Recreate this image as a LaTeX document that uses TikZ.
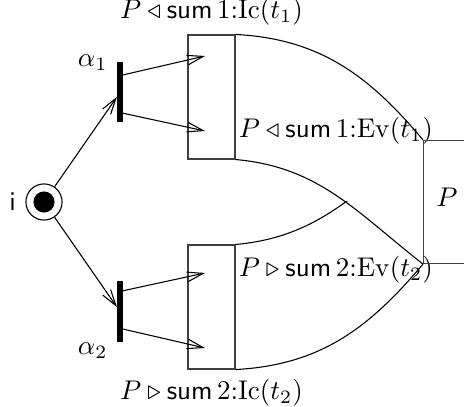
\documentclass[tikz,border=0pt]{standalone}
\usepackage{amsmath,amssymb}
\usetikzlibrary{positioning,arrows.meta,calc}
\newcommand{\sumlab}[3]{$P #1 \mathsf{sum}\,#2{:}\mathrm{#3}(t_{#2})$}

\begin{document}
\begin{tikzpicture}[
  >={Straight Barb[length=2.1mm,width=1.25mm]},
  place/.style={draw, circle, minimum size=4.7mm, inner sep=0pt},
  token/.style={fill, circle, minimum size=2.75mm, inner sep=0pt},
  trans/.style={draw, fill, minimum width=0.65mm, minimum height=7.67mm, inner sep=0pt},
  comp/.style={draw=black!75, minimum width=6.11mm, minimum height=16.12mm, inner sep=0pt},
  lab/.style={inner sep=1pt}
]
\useasboundingbox (-0.572,-2.665) rectangle (5.46,2.626);
\clip (-0.572,-2.665) rectangle (5.46,2.626);

% initial place
\node[place] (i) at (0,0) {};
\node[token] (tok) at (i) {};
\node[left=0pt of i] (ilab) {\textsf{i}};

% transitions
\node[trans] (a1) at (0.988,1.424) {};
\node[trans] (a2) at (0.988,-1.424) {};
\node[anchor=east] (a1lab) at (a1.north west) {$\alpha_1$};
\node[anchor=east] (a2lab) at ($(a2.south west)+(0,-0.12)$) {$\alpha_2$};

% components
\node[comp] (c1) at (2.178,1.365) {};
\node[comp] (c2) at (2.178,-1.365) {};
\node[above=0pt of c1] (c1ic) {\sumlab{\triangleleft}{1}{Ic}};
\node[below=0pt of c2] (c2ic) {\sumlab{\triangleright}{2}{Ic}};
\node[lab, anchor=west] (c1ev) at ($(c1.south east)+(0,0.377)$) {\sumlab{\triangleleft}{1}{Ev}};
\node[lab, anchor=west] (c2ev) at ($(c2.north east)+(0,-0.325)$) {\sumlab{\triangleright}{2}{Ev}};

% P box
\node[draw=black!75, minimum width=1.2cm, minimum height=1.6cm, anchor=west] (pb) at (4.927,0) {};
\node (plab) at ($(pb.west)+(0.31,0.065)$) {$P$};

\draw[->] (i) -- (a1);
\draw[->] (i) -- (a2);
\draw[->] ($(a1.east)+(0,0.228)$) -- ($(c1.center)+(-0.085,0.533)$);
\draw[->] ($(a1.east)+(0,-0.27)$) -- ($(c1.center)+(-0.085,-0.442)$);
\draw[->] ($(a2.east)+(0,0.27)$) -- ($(c2.center)+(-0.085,0.442)$);
\draw[->] ($(a2.east)+(0,-0.228)$) -- ($(c2.center)+(-0.085,-0.533)$);

\draw (c1.north east) to[out=-3,in=130] (pb.north west);
\draw (c1.south east) to[out=-5,in=142] (pb.south west);
\draw (c2.south east) to[out=3,in=-130] (pb.south west);
\begin{scope}
  \clip (c2.north east) rectangle (pb.west);
  \draw (c2.north east) to[out=5,in=-142] (pb.north west);
\end{scope}

\end{tikzpicture}
\end{document}
